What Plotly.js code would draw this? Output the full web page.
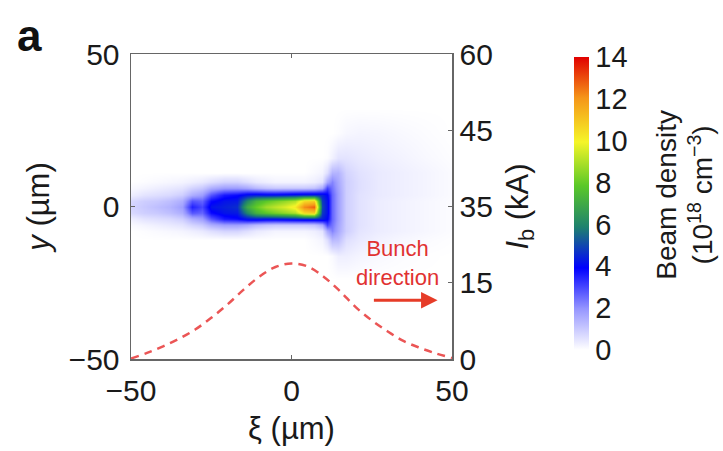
<!DOCTYPE html>
<html>
<head>
<meta charset="utf-8">
<script src="https://cdn.plot.ly/plotly-3.0.1.min.js"></script>
<style>html,body{margin:0;padding:0;background:#fff;}#chart{width:723px;height:451px;}</style>
</head>
<body>
<div id="chart"></div>
<script>
// ---- data ----
// longitudinal positions of the density grid (µm)
var xiCells = [-50, -46, -42, -38, -34, -31, -28, -25, -21, -17, -14, -11, -8, -5, -2, 1, 4, 7, 9.5, 11, 12.5, 14.5, 17, 21, 27, 34, 42, 50];
// transverse positions of the density grid (µm)
var yCells = [-24, -16, -11, -8, -6, -4, -2, 0, 2, 4, 6, 8, 11, 16, 24, 32];
// beam density rows (10^18 cm^-3), one per yCells entry
var rowYm24 = [0,0,0,0,0,0,0,0,0,0,0,0,0,0,0,0,0,0,0,0,0,0,0,0,0,0,0,0];
var rowYm16 = [0,0,0,0,0,0,0,0,0,0,0,0,0,0,0,0,0,0,0,0,0.1,0.3,0.3,0.2,0.12,0.06,0.02,0];
var rowYm11 = [0,0,0,0,0,0,0,0,0,0,0,0,0,0,0,0,0,0.1,0.2,0.6,1.3,1.2,0.6,0.4,0.25,0.15,0.08,0.03];
var rowYm8  = [0,0.05,0.1,0.15,0.2,0.3,0.4,0.6,0.8,0.8,0.6,0.4,0.3,0.2,0.2,0.2,0.2,0.3,0.5,1.6,2.2,1.6,0.9,0.5,0.35,0.25,0.15,0.06];
var rowYm6  = [0.1,0.2,0.3,0.4,0.5,0.8,1.0,1.5,1.8,1.8,1.6,1.3,1.1,1.0,1.0,1.0,1.0,1.1,1.6,3.0,2.4,1.7,0.9,0.55,0.35,0.25,0.15,0.06];
var rowYm4  = [0.3,0.5,0.6,0.7,0.9,1.5,1.8,2.8,3.6,3.8,4.2,4.3,4.2,4.2,4.3,4.4,4.5,4.5,4.4,4.0,2.6,1.8,0.9,0.55,0.35,0.25,0.15,0.06];
var rowYm2  = [0.7,0.9,1.0,1.2,1.5,2.8,2.6,3.8,4.2,4.3,6.0,7.2,7.8,8.2,8.6,9.0,10.5,10.8,4.8,4.2,2.6,1.8,0.9,0.55,0.35,0.25,0.15,0.06];
var rowY0   = [0.8,1.0,1.2,1.4,1.8,3.5,3.0,4.2,4.4,4.6,7.0,8.0,8.8,9.2,9.6,10.2,12.2,12.8,5.0,4.2,2.6,1.8,0.9,0.55,0.35,0.25,0.15,0.06];
var rowYp2  = [0.7,0.9,1.0,1.2,1.5,2.8,2.6,3.8,4.2,4.3,6.0,7.2,7.8,8.2,8.6,9.0,10.5,10.8,4.8,4.2,2.6,1.8,0.9,0.55,0.35,0.25,0.15,0.06];
var rowYp4  = [0.3,0.5,0.6,0.7,0.9,1.5,1.8,2.8,3.6,3.8,4.2,4.3,4.2,4.2,4.3,4.4,4.5,4.5,4.4,4.0,2.6,1.8,0.9,0.55,0.4,0.3,0.2,0.08];
var rowYp6  = [0.1,0.2,0.3,0.4,0.5,0.8,1.0,1.5,1.8,1.8,1.6,1.3,1.1,1.0,1.0,1.0,1.0,1.1,1.6,3.0,2.4,1.7,0.9,0.6,0.4,0.3,0.2,0.08];
var rowYp8  = [0,0.05,0.1,0.15,0.2,0.3,0.4,0.6,0.8,0.8,0.6,0.4,0.3,0.2,0.2,0.2,0.2,0.3,0.5,1.6,2.2,1.6,0.9,0.6,0.4,0.3,0.2,0.08];
var rowYp11 = [0,0,0,0,0,0,0,0,0,0,0,0,0,0,0,0,0,0.1,0.2,0.6,1.4,1.4,0.8,0.55,0.4,0.3,0.2,0.08];
var rowYp16 = [0,0,0,0,0,0,0,0,0,0,0,0,0,0,0,0,0,0,0,0.05,0.25,0.5,0.5,0.4,0.3,0.22,0.12,0.04];
var rowYp24 = [0,0,0,0,0,0,0,0,0,0,0,0,0,0,0,0,0,0,0,0,0,0.05,0.15,0.2,0.18,0.12,0.06,0];
var rowYp32 = [0,0,0,0,0,0,0,0,0,0,0,0,0,0,0,0,0,0,0,0,0,0,0,0,0,0,0,0];

// beam current profile (kA) vs xi (µm)
var xiCurrent = [-50, -45, -40, -35, -30, -25, -20, -15, -10, -5, 0, 5, 10, 15, 20, 25, 30, 35, 40, 45, 50];
var currentKA = [0.1, 1.2, 2.5, 4.0, 5.8, 8.1, 10.7, 13.6, 16.2, 18.1, 18.8, 18.2, 16.2, 13.4, 10.2, 7.6, 5.4, 3.5, 2.2, 1.1, 0.2];

// axis ticks
var xTicks = [-50, 0, 50];
var yTicks = [-50, 0, 50];
var ibTickVals = [0, 15, 30, 45, 60];
var ibTickText = ['0', '15', '35', '45', '60'];
var cbTicks = [0, 2, 4, 6, 8, 10, 12, 14];

var densityZ = [rowYm24,rowYm16,rowYm11,rowYm8,rowYm6,rowYm4,rowYm2,rowY0,rowYp2,rowYp4,rowYp6,rowYp8,rowYp11,rowYp16,rowYp24,rowYp32];

var FONT = '"Liberation Sans", Arial, Helvetica, sans-serif';
var TXT = '#1a1a1a';
var FRAME = '#666666';

var heat = {
  type: 'heatmap',
  x: xiCells, y: yCells, z: densityZ,
  zmin: 0, zmax: 14, zsmooth: 'best',
  colorscale: [
    [0, 'rgb(255,255,255)'],
    [0.14, 'rgb(150,150,255)'],
    [0.28, 'rgb(0,0,255)'],
    [0.42, 'rgb(30,130,110)'],
    [0.56, 'rgb(90,200,40)'],
    [0.71, 'rgb(245,245,40)'],
    [0.86, 'rgb(245,150,25)'],
    [1, 'rgb(225,0,0)']
  ],
  colorbar: {
    x: 1.38, xanchor: 'left', xpad: 0,
    y: 0.51, yanchor: 'middle', ypad: 0,
    lenmode: 'pixels', len: 293,
    thickness: 15, outlinewidth: 0,
    tickvals: cbTicks, ticks: '',
    tickfont: {family: FONT, size: 29, color: TXT}
  },
  hoverinfo: 'skip'
};

var curr = {
  type: 'scatter', mode: 'lines',
  x: xiCurrent, y: currentKA, yaxis: 'y2',
  line: {color: 'rgb(235,85,85)', width: 2.5, dash: '8px,6px', shape: 'spline'},
  hoverinfo: 'skip'
};

var layout = {
  width: 723, height: 451,
  margin: {l: 131, r: 271, t: 54, b: 92},
  paper_bgcolor: '#fff', plot_bgcolor: '#fff',
  showlegend: false,
  font: {family: FONT, color: TXT, size: 30},
  xaxis: {
    range: [-50, 50], tickvals: xTicks, ticktext: ['\u221250', '0', '50'],
    ticks: 'inside', ticklen: 4, tickcolor: FRAME,
    showline: true, linecolor: FRAME, linewidth: 1.5, mirror: 'ticks',
    showgrid: false, zeroline: false,
    tickfont: {size: 30}, ticklabelstandoff: 4,
    title: {text: '\u03be (\u00b5m)', font: {size: 31}, standoff: 12}
  },
  yaxis: {
    range: [-50, 50], tickvals: yTicks, ticktext: ['\u221250', '0', '50'],
    ticks: 'inside', ticklen: 4, tickcolor: FRAME,
    showline: true, linecolor: FRAME, linewidth: 1.5,
    showgrid: false, zeroline: false,
    tickfont: {size: 30}, ticklabelstandoff: 4,
    title: {text: '<i>y</i> (\u00b5m)', font: {size: 31}, standoff: 10}
  },
  yaxis2: {
    overlaying: 'y', side: 'right', range: [0, 60],
    tickvals: ibTickVals, ticktext: ibTickText,
    ticks: 'inside', ticklen: 4, tickcolor: FRAME,
    showline: true, linecolor: FRAME, linewidth: 1.5,
    showgrid: false, zeroline: false,
    tickfont: {size: 30},
    title: {text: '<i>I</i><sub>b</sub> (kA)', font: {size: 31}, standoff: 14}
  },
  annotations: [
    {text: '<b>a</b>', xref: 'paper', yref: 'paper', x: -0.317, y: 1.062,
     xanchor: 'center', yanchor: 'middle', showarrow: false, font: {size: 44, color: '#111'}},
    {text: 'Bunch<br>direction', xref: 'x', yref: 'y', x: 33, y: -18.5,
     xanchor: 'center', yanchor: 'middle', showarrow: false,
     font: {size: 22, color: 'rgb(225,50,50)'}},
    {text: '', xref: 'x', yref: 'y', x: 45.5, y: -30.7, axref: 'x', ayref: 'y', ax: 25.2, ay: -30.7,
     showarrow: true, arrowhead: 2, arrowsize: 1.1, arrowwidth: 3, arrowcolor: 'rgb(230,60,40)'},
    {text: 'Beam density<br>(10<sup>18</sup> cm<sup>\u22123</sup>)', xref: 'paper', yref: 'paper',
     x: 1.724, y: 0.54, xanchor: 'center', yanchor: 'middle', textangle: -90, showarrow: false,
     font: {size: 28, color: TXT}}
  ]
};

Plotly.newPlot('chart', [heat, curr], layout, {displayModeBar: false, staticPlot: true});
</script>
</body>
</html>
